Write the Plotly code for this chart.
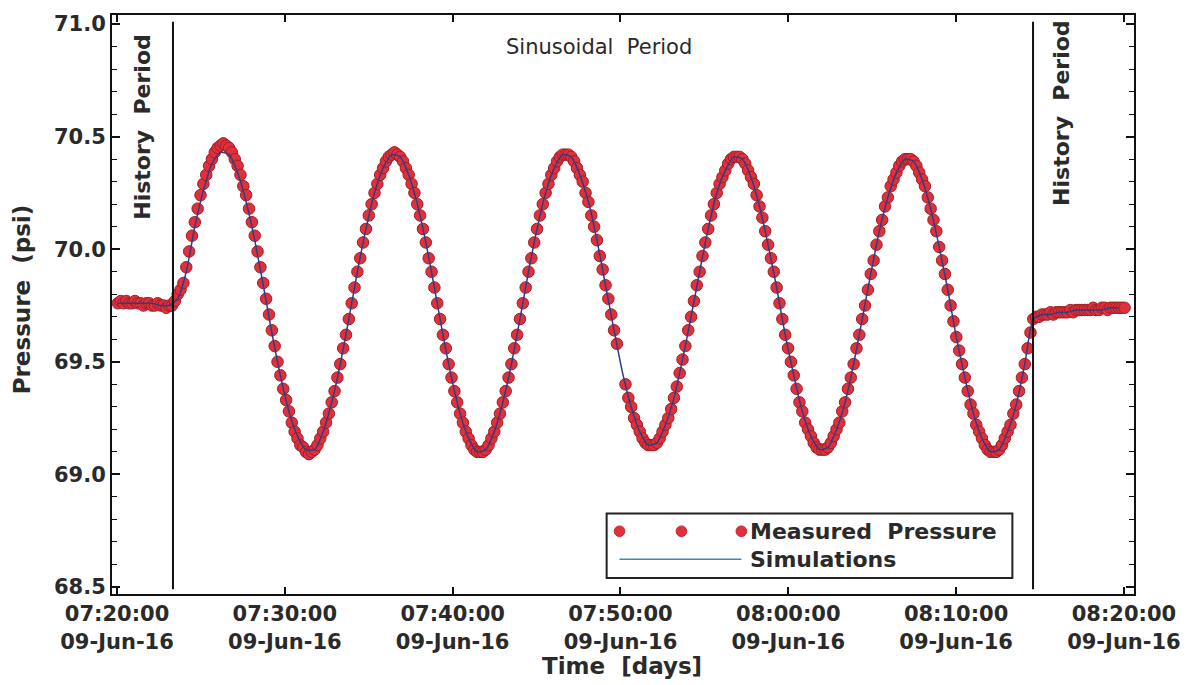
import pandas as pd
import plotly.graph_objects as go

# ---------------- data ----------------
t_start = "2016-06-09 07:20:02.8"   # first measured sample
sample_step = "10197ms"             # measured sampling interval

history_before = [69.76, 69.77, 69.76, 69.77, 69.76, 69.76, 69.77, 69.76, 69.76, 69.75,
                  69.76, 69.76, 69.75, 69.75, 69.76, 69.75, 69.75, 69.74, 69.75, 69.75]

sinusoidal = [
    # rise to first peak
    69.77, 69.80, 69.82, 69.85, 69.92, 69.99, 70.06, 70.12, 70.18, 70.24, 70.29, 70.33,
    70.37, 70.40, 70.43, 70.45, 70.46, 70.47,
    # descent 1
    70.46, 70.45, 70.43, 70.40, 70.37, 70.33, 70.28, 70.24, 70.18, 70.12, 70.06, 69.99,
    69.92, 69.85, 69.78, 69.71, 69.64, 69.57, 69.50, 69.44, 69.38, 69.33, 69.28, 69.23,
    69.19, 69.16, 69.13, 69.12, 69.10, 69.09,
    # ascent 1
    69.10, 69.11, 69.13, 69.16, 69.19, 69.23, 69.27, 69.32, 69.37, 69.43, 69.49, 69.56,
    69.62, 69.69, 69.76, 69.83, 69.90, 69.96, 70.03, 70.09, 70.15, 70.20, 70.25, 70.29,
    70.33, 70.36, 70.39, 70.41, 70.42, 70.43,
    # descent 2
    70.42, 70.41, 70.39, 70.36, 70.33, 70.29, 70.25, 70.20, 70.15, 70.09, 70.03, 69.96,
    69.90, 69.83, 69.76, 69.69, 69.62, 69.56, 69.49, 69.43, 69.37, 69.32, 69.27, 69.23,
    69.19, 69.16, 69.13, 69.11, 69.10, 69.10,
    # ascent 2
    69.10, 69.11, 69.13, 69.16, 69.19, 69.23, 69.27, 69.32, 69.37, 69.43, 69.49, 69.56,
    69.62, 69.69, 69.76, 69.83, 69.90, 69.96, 70.03, 70.09, 70.15, 70.20, 70.25, 70.29,
    70.33, 70.36, 70.39, 70.41, 70.42, 70.42,
    # descent 3 (two samples missing near 07:50)
    70.42, 70.41, 70.39, 70.36, 70.33, 70.30, 70.25, 70.21, 70.15, 70.10, 70.04, 69.97,
    69.91, 69.84, 69.78, 69.71, 69.64, 69.58, None, None, 69.40, 69.34, 69.30, 69.25,
    69.22, 69.19, 69.16, 69.14, 69.13, 69.13,
    # ascent 3
    69.13, 69.14, 69.16, 69.19, 69.22, 69.25, 69.29, 69.34, 69.39, 69.45, 69.51, 69.57,
    69.64, 69.70, 69.77, 69.84, 69.90, 69.97, 70.03, 70.09, 70.15, 70.20, 70.25, 70.29,
    70.32, 70.35, 70.38, 70.40, 70.41, 70.41,
    # descent 4
    70.41, 70.40, 70.38, 70.35, 70.32, 70.29, 70.24, 70.19, 70.14, 70.08, 70.02, 69.96,
    69.90, 69.83, 69.76, 69.69, 69.62, 69.56, 69.50, 69.44, 69.38, 69.32, 69.28, 69.23,
    69.20, 69.17, 69.14, 69.12, 69.11, 69.11,
    # ascent 4
    69.11, 69.12, 69.14, 69.17, 69.20, 69.23, 69.28, 69.32, 69.38, 69.43, 69.49, 69.56,
    69.62, 69.69, 69.75, 69.82, 69.89, 69.95, 70.02, 70.08, 70.13, 70.19, 70.23, 70.28,
    70.31, 70.34, 70.37, 70.39, 70.40, 70.40,
    # descent 5
    70.40, 70.39, 70.37, 70.34, 70.31, 70.28, 70.23, 70.18, 70.13, 70.08, 70.01, 69.95,
    69.89, 69.82, 69.75, 69.68, 69.61, 69.55, 69.49, 69.43, 69.37, 69.31, 69.27, 69.22,
    69.19, 69.16, 69.13, 69.11, 69.10, 69.10,
    # final ascent
    69.10, 69.11, 69.13, 69.16, 69.19, 69.22, 69.27, 69.31, 69.37, 69.43, 69.49, 69.56,
    69.63,
]

history_after = [69.69, 69.70, 69.70, 69.71, 69.71, 69.71, 69.72, 69.71, 69.72, 69.72,
                 69.72, 69.72, 69.72, 69.73, 69.72, 69.73, 69.73, 69.73, 69.73, 69.73,
                 69.73, 69.74, 69.73, 69.73, 69.74, 69.74, 69.73, 69.74, 69.74, 69.74,
                 69.74, 69.74, 69.74]

measured = history_before + sinusoidal + history_after

# simulation, every third measurement time
simulation = [
    69.76, 69.76, 69.76, 69.76, 69.76, 69.75, 69.75,
    69.78, 69.90, 70.10, 70.26, 70.38, 70.43,
    70.42, 70.34, 70.21, 70.04, 69.84, 69.63, 69.44, 69.28, 69.17, 69.11,
    69.11, 69.19, 69.32, 69.49, 69.69, 69.90, 70.09, 70.25, 70.36, 70.42,
    70.41, 70.33, 70.20, 70.03, 69.83, 69.62, 69.43, 69.27, 69.16, 69.10,
    69.11, 69.19, 69.32, 69.49, 69.69, 69.90, 70.09, 70.25, 70.36, 70.42,
    70.41, 70.33, 70.21, 70.04, 69.84, 69.64, 69.45, 69.30, 69.19, 69.13,
    69.14, 69.22, 69.34, 69.51, 69.70, 69.90, 70.09, 70.25, 70.35, 70.41,
    70.40, 70.32, 70.19, 70.02, 69.83, 69.62, 69.44, 69.28, 69.17, 69.11,
    69.12, 69.20, 69.32, 69.49, 69.69, 69.89, 70.08, 70.23, 70.34, 70.40,
    70.39, 70.31, 70.18, 70.01, 69.82, 69.61, 69.43, 69.27, 69.16, 69.10,
    69.11, 69.19, 69.31, 69.49,
    69.69, 69.71, 69.71, 69.72, 69.72, 69.73, 69.73, 69.73, 69.73, 69.74, 69.74,
]

period_bounds = ["2016-06-09 07:23:20", "2016-06-09 08:14:35"]

x_tickvals = ["2016-06-09 07:20:00", "2016-06-09 07:30:00", "2016-06-09 07:40:00",
              "2016-06-09 07:50:00", "2016-06-09 08:00:00", "2016-06-09 08:10:00",
              "2016-06-09 08:20:00"]
x_ticktext = ["07:20:00<br>09-Jun-16", "07:30:00<br>09-Jun-16", "07:40:00<br>09-Jun-16",
              "07:50:00<br>09-Jun-16", "08:00:00<br>09-Jun-16", "08:10:00<br>09-Jun-16",
              "08:20:00<br>09-Jun-16"]
y_tickvals = [68.5, 69.0, 69.5, 70.0, 70.5, 71.0]

# ---------------- figure ----------------
times = pd.date_range(t_start, periods=len(measured), freq=sample_step)
sim_times = times[::3]

FONT = "DejaVu Sans"
TXT = "#2a2a2a"
RED = "#e0303c"
SIM = "#2c3f82"

fig = go.Figure()
fig.add_trace(go.Scatter(
    x=times, y=measured, mode="markers", name="Measured Pressure",
    marker=dict(size=11.5, color=RED, line=dict(width=1, color="#a01e28")),
    showlegend=False))
fig.add_trace(go.Scatter(
    x=sim_times, y=simulation, mode="lines", name="Simulations",
    line=dict(color=SIM, width=1.5, shape="spline", smoothing=0.6),
    showlegend=False))

for xb in period_bounds:
    fig.add_shape(type="line", xref="x", yref="y", x0=xb, x1=xb, y0=68.49, y1=71.01,
                  line=dict(color="#111111", width=2))

# text annotations
def ann(text, x, y, size=22, angle=0, bold=True, xanchor="center"):
    fig.add_annotation(text=text, x=x, y=y, xref="paper", yref="paper", showarrow=False,
                       textangle=angle, xanchor=xanchor, yanchor="middle",
                       font=dict(family=FONT, size=size, color=TXT,
                                 weight="bold" if bold else "normal"))

ann("Sinusoidal  Period", 0.477, 0.945, size=21, bold=False)
ann("History  Period", 0.0303, 0.807, angle=-90)
ann("History  Period", 0.9296, 0.831, angle=-90)
ann("Pressure  (psi)", -0.088, 0.509, size=23, angle=-90)
ann("Time  [days]", 0.4995, -0.124, size=23)

# legend box (drawn)
fig.add_shape(type="rect", xref="paper", yref="paper", x0=0.484, x1=0.881, y0=0.0275, y1=0.139,
              line=dict(color="#222222", width=2), fillcolor="white")
for lx in [0.4966, 0.5572, 0.6158]:
    fig.add_shape(type="circle", xref="paper", yref="paper",
                  x0=lx - 0.0052, x1=lx + 0.0052, y0=0.1084 - 0.0092, y1=0.1084 + 0.0092,
                  fillcolor=RED, line=dict(color="#c02530", width=1))
fig.add_shape(type="line", xref="paper", yref="paper", x0=0.4966, x1=0.6158, y0=0.0602, y1=0.0602,
              line=dict(color="#3f87ad", width=1.5))
ann("Measured  Pressure", 0.622, 0.1084, size=22, xanchor="left")
ann("Simulations", 0.622, 0.0602, size=22, xanchor="left")

axis_common = dict(showline=True, linecolor="#111111", linewidth=2, mirror="allticks",
                   ticks="inside", tickcolor="#111111", showgrid=False, zeroline=False,
                   tickfont=dict(family=FONT, size=21, color=TXT, weight="bold"))

fig.update_xaxes(range=["2016-06-09 07:19:42", "2016-06-09 08:20:36"],
                 tickvals=x_tickvals, ticktext=x_ticktext, ticklen=7, tickwidth=1.5,
                 **axis_common)
fig.update_yaxes(range=[68.469, 71.04], tickvals=y_tickvals, tickformat=".1f",
                 ticklen=8, tickwidth=1.5,
                 minor=dict(dtick=0.1, tick0=68.5, ticks="inside", ticklen=5,
                            tickcolor="#111111", tickwidth=1),
                 **axis_common)

fig.update_layout(width=1193, height=685, margin=dict(l=112, r=58, t=13, b=91),
                  plot_bgcolor="white", paper_bgcolor="white")

fig.write_html("out.html")
